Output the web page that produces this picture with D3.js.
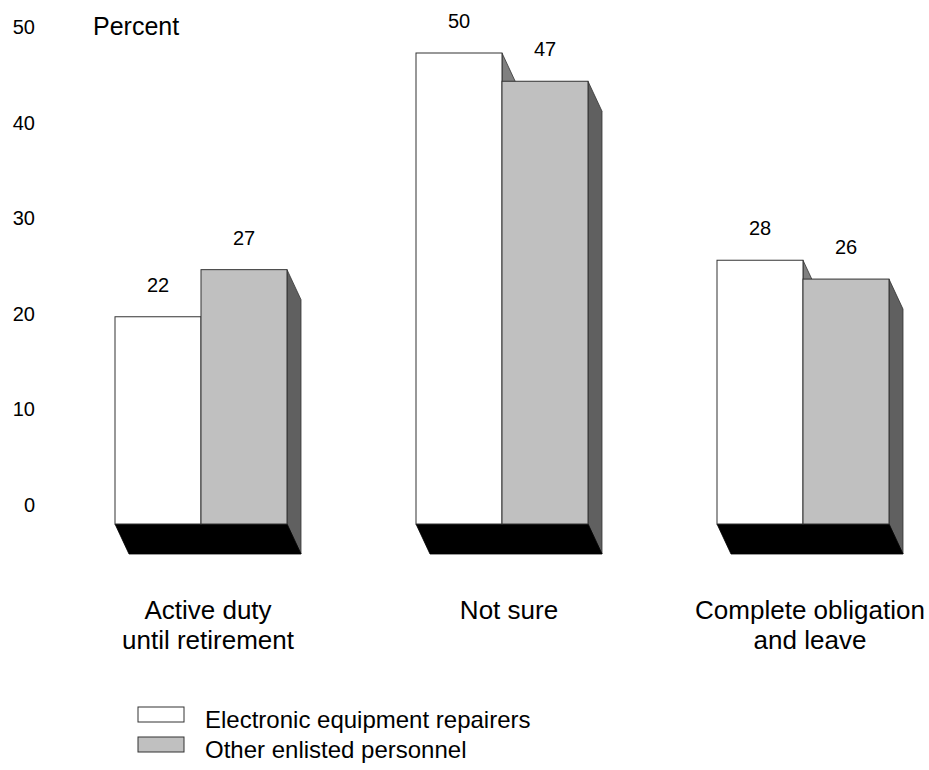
<!DOCTYPE html>
<html>
<head>
<meta charset="utf-8">
<script src="https://cdn.jsdelivr.net/npm/d3@7/dist/d3.min.js"></script>
<style>
  html, body { margin: 0; padding: 0; background: #fff; }
  text { font-family: "Liberation Sans", Arial, Helvetica, sans-serif; fill: #000; }
</style>
</head>
<body>
<svg id="chart" width="929" height="770"></svg>
<script>
// ---- Data ----
const categories = ["Active duty|until retirement", "Not sure", "Complete obligation|and leave"];
const seriesNames = ["Electronic equipment repairers", "Other enlisted personnel"];
const repairers = [22, 50, 28];
const otherEnlisted = [27, 47, 26];
const tickValues = [0, 10, 20, 30, 40, 50];
const axisTitle = "Percent";

// ---- Styles ----
const frontColors = ["#ffffff", "#c0c0c0"];
const sideColors = ["#808080", "#606060"];
const floorColor = "#000000";
const edge = "#333333";
const depthX = 14, depthY = 30;

const svg = d3.select("#chart");

// scales
const yBar = d3.scaleLinear().domain([0, 50]).range([524, 53]);
const yTick = d3.scaleLinear().domain([0, 50]).range([505, 27.5]);
const x0 = d3.scaleBand().domain(categories).range([115, 889]).paddingInner(1 - 172 / 301).paddingOuter(0);
const x1 = d3.scaleBand().domain(seriesNames).range([0, x0.bandwidth()]);

const rows = categories.map((c, i) => ({ cat: c, values: [repairers[i], otherEnlisted[i]] }));

// tick labels (no lines)
const axisG = svg.append("g").attr("transform", "translate(35,0)")
  .call(d3.axisLeft(yTick).tickValues(tickValues).tickSize(0).tickPadding(0));
axisG.select(".domain").remove();
axisG.selectAll("text").attr("font-size", 20).attr("font-family", "Liberation Sans, Arial, sans-serif").attr("fill", "#000");

svg.append("text").attr("x", 93).attr("y", 35).attr("font-size", 25).text(axisTitle);

const base = yBar(0);
rows.forEach(r => {
  const g = svg.append("g");
  const gx = x0(r.cat);
  const W = x0.bandwidth();
  // side faces
  r.values.forEach((v, j) => {
    const xr = gx + x1(seriesNames[j]) + x1.bandwidth();
    const top = yBar(v);
    g.append("path")
      .attr("d", `M${xr},${top}L${xr + depthX},${top + depthY}L${xr + depthX},${base + depthY}L${xr},${base}Z`)
      .attr("fill", sideColors[j]).attr("stroke", edge).attr("stroke-width", 0.8);
  });
  // floor
  g.append("path")
    .attr("d", `M${gx},${base}L${gx + W},${base}L${gx + W + depthX},${base + depthY}L${gx + depthX},${base + depthY}Z`)
    .attr("fill", floorColor).attr("stroke", floorColor).attr("stroke-width", 0.8);
  // fronts
  r.values.forEach((v, j) => {
    const xl = gx + x1(seriesNames[j]);
    const top = yBar(v);
    g.append("rect")
      .attr("x", xl).attr("y", top)
      .attr("width", x1.bandwidth()).attr("height", base - top)
      .attr("fill", frontColors[j]).attr("stroke", edge).attr("stroke-width", 1);
    g.append("text")
      .attr("x", xl + x1.bandwidth() / 2).attr("y", top - 25)
      .attr("text-anchor", "middle").attr("font-size", 20)
      .text(v);
  });
  // category label
  const lines = r.cat.split("|");
  const t = svg.append("text").attr("text-anchor", "middle").attr("font-size", 26);
  lines.forEach((ln, k) => {
    t.append("tspan").attr("x", gx + W / 2 + depthX / 2).attr("y", 619 + k * 30).text(ln);
  });
});

// legend
const legend = svg.append("g");
seriesNames.forEach((s, j) => {
  const ly = 707 + j * 30;
  legend.append("rect").attr("x", 138).attr("y", ly).attr("width", 46).attr("height", 15)
    .attr("fill", frontColors[j]).attr("stroke", edge).attr("stroke-width", 1);
  legend.append("text").attr("x", 205).attr("y", ly + 21).attr("font-size", 24).text(s);
});
</script>
</body>
</html>
